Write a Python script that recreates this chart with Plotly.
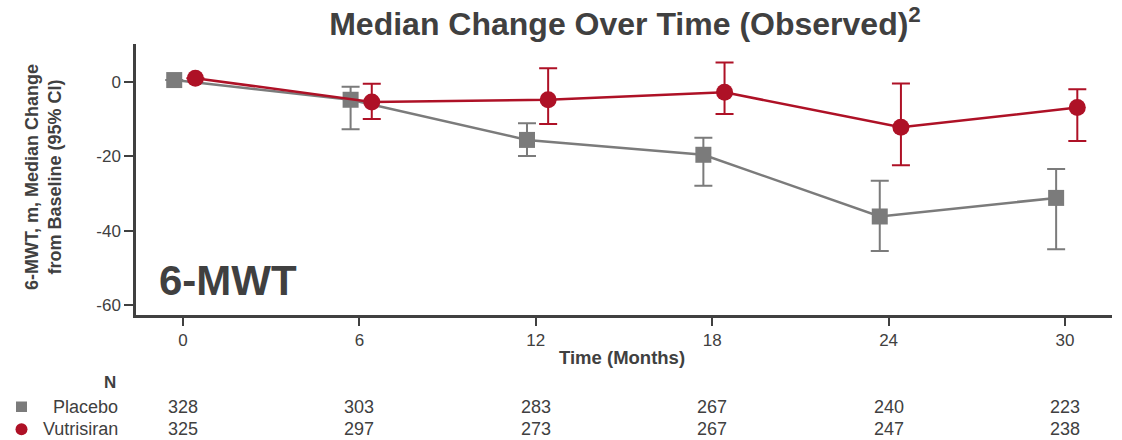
import plotly.graph_objects as go

# Visit months and the number of patients assessed at each visit
months = [0, 6, 12, 18, 24, 30]
n_placebo = [328, 303, 283, 267, 240, 223]
n_vutrisiran = [325, 297, 273, 267, 247, 238]

# Median change from baseline in 6-MWT (m) with 95% CI bounds
placebo_median = [0.5, -4.8, -15.6, -19.6, -36.2, -31.2]
placebo_upper = [0.5, -1.3, -11.1, -15.0, -26.6, -23.4]
placebo_lower = [0.5, -12.7, -19.9, -27.9, -45.5, -45.0]

vutrisiran_median = [1.0, -5.4, -4.8, -2.8, -12.2, -6.9]
vutrisiran_upper = [1.0, -0.5, 3.7, 5.2, -0.4, -2.0]
vutrisiran_lower = [1.0, -10.0, -11.3, -8.6, -22.4, -15.9]

y_ticks = [0, -20, -40, -60]

GRAY = "#7b7b7b"
RED = "#ae1126"
DARK = "#404040"
FONT = "Liberation Sans, Arial, sans-serif"

W, H = 1122, 440
M_L, M_R, M_T, M_B = 136, 10, 44, 125
PW = W - M_L - M_R
PH = H - M_T - M_B


def px_x(px):
    return (px - M_L) / PW


def px_y(py):
    return (H - M_B - py) / PH


# small horizontal dodge so the two arms do not overlap
dodge_placebo = -0.3
dodge_vutrisiran = 0.42

fig = go.Figure()

fig.add_trace(go.Scatter(
    x=[m + dodge_placebo for m in months],
    y=placebo_median,
    mode="lines+markers",
    line=dict(color=GRAY, width=2.5),
    marker=dict(symbol="square", size=16, color=GRAY),
    error_y=dict(
        type="data", symmetric=False,
        array=[u - m for u, m in zip(placebo_upper, placebo_median)],
        arrayminus=[m - l for m, l in zip(placebo_median, placebo_lower)],
        color=GRAY, thickness=2, width=9,
    ),
    name="Placebo", showlegend=False,
))

fig.add_trace(go.Scatter(
    x=[m + dodge_vutrisiran for m in months],
    y=vutrisiran_median,
    mode="lines+markers",
    line=dict(color=RED, width=2.5),
    marker=dict(symbol="circle", size=17, color=RED),
    error_y=dict(
        type="data", symmetric=False,
        array=[u - m for u, m in zip(vutrisiran_upper, vutrisiran_median)],
        arrayminus=[m - l for m, l in zip(vutrisiran_median, vutrisiran_lower)],
        color=RED, thickness=2, width=9,
    ),
    name="Vutrisiran", showlegend=False,
))

annotations = [
    # panel label
    dict(text="<b>6-MWT</b>", x=px_x(157), y=px_y(280), xref="paper", yref="paper",
         xanchor="left", yanchor="middle", showarrow=False,
         font=dict(family=FONT, size=42, color=DARK)),
    # y-axis title
    dict(text="<b>6-MWT, m, Median Change<br>from Baseline (95% CI)</b>",
         x=px_x(43), y=px_y(177), xref="paper", yref="paper",
         xanchor="center", yanchor="middle", textangle=-90, showarrow=False,
         font=dict(family=FONT, size=18, color=DARK)),
    # N table header and row labels
    dict(text="<b>N</b>", x=px_x(110), y=px_y(382), xref="paper", yref="paper",
         xanchor="center", yanchor="middle", showarrow=False,
         font=dict(family=FONT, size=17, color=DARK)),
    dict(text="Placebo", x=px_x(120), y=px_y(407), xref="paper", yref="paper",
         xanchor="right", yanchor="middle", showarrow=False,
         font=dict(family=FONT, size=18, color=DARK)),
    dict(text="Vutrisiran", x=px_x(120), y=px_y(429), xref="paper", yref="paper",
         xanchor="right", yanchor="middle", showarrow=False,
         font=dict(family=FONT, size=18, color=DARK)),
    # x-axis title
    dict(text="<b>Time (Months)</b>", x=px_x(622), y=px_y(357), xref="paper", yref="paper",
         xanchor="center", yanchor="middle", showarrow=False,
         font=dict(family=FONT, size=18.5, color=DARK)),
]

for m, n_p, n_v in zip(months, n_placebo, n_vutrisiran):
    annotations.append(dict(text=str(n_p), x=m, y=px_y(407), xref="x", yref="paper",
                            xanchor="center", yanchor="middle", showarrow=False,
                            font=dict(family=FONT, size=18, color=DARK)))
    annotations.append(dict(text=str(n_v), x=m, y=px_y(429), xref="x", yref="paper",
                            xanchor="center", yanchor="middle", showarrow=False,
                            font=dict(family=FONT, size=18, color=DARK)))

shapes = [
    dict(type="rect", xref="paper", yref="paper",
         x0=px_x(16), x1=px_x(27), y0=px_y(412), y1=px_y(401.5),
         fillcolor=GRAY, line=dict(width=0)),
    dict(type="circle", xref="paper", yref="paper",
         x0=px_x(15.5), x1=px_x(27.5), y0=px_y(435.3), y1=px_y(423.3),
         fillcolor=RED, line=dict(width=0)),
]

fig.update_layout(
    width=W, height=H,
    margin=dict(l=M_L, r=M_R, t=M_T, b=M_B),
    paper_bgcolor="white", plot_bgcolor="white",
    font=dict(family=FONT, color=DARK),
    title=dict(
        text="<b>Median Change Over Time (Observed)<sup>2</sup></b>",
        x=px_x(625), xref="paper", xanchor="center",
        y=1 - 24 / H, yref="container", yanchor="middle",
        font=dict(family=FONT, size=32, color=DARK),
    ),
    xaxis=dict(
        range=[-1.6, 31.6], tickvals=months, ticktext=[str(m) for m in months],
        showline=True, linecolor=DARK, linewidth=2.5,
        ticks="outside", ticklen=8, tickwidth=2, tickcolor=DARK,
        showgrid=False, zeroline=False,
        tickfont=dict(family=FONT, size=17, color=DARK),
    ),
    yaxis=dict(
        range=[-62.7, 10.2], tickvals=y_ticks, ticktext=[str(v) for v in y_ticks],
        showline=True, linecolor=DARK, linewidth=2.5,
        ticks="outside", ticklen=9, tickwidth=2, tickcolor=DARK,
        showgrid=False, zeroline=False,
        tickfont=dict(family=FONT, size=17, color=DARK),
    ),
    annotations=annotations,
    shapes=shapes,
)

fig.write_html("out.html")
